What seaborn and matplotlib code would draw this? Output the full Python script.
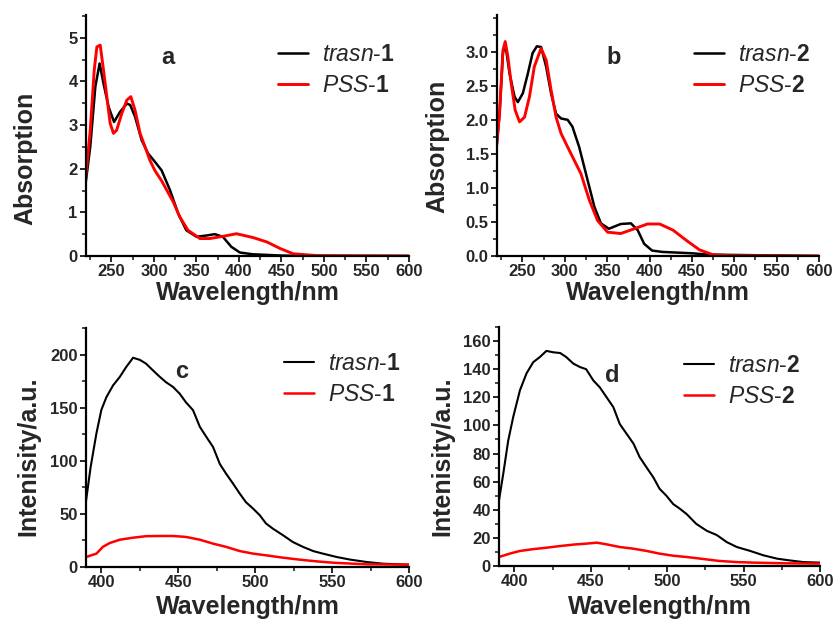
import numpy as np
import pandas as pd
import matplotlib
matplotlib.use("Agg")
import matplotlib.pyplot as plt
import seaborn as sns
from matplotlib.ticker import MultipleLocator, FixedLocator

# Absorption spectra, compound 1 (panel a)
wl_a_trans = [219, 225, 231, 236, 240.6, 246.5, 253, 260, 268, 272, 277.7, 285.5, 293, 301,
              309, 319, 328.5, 338, 350, 362, 371.5, 381, 391, 401, 416, 450, 480, 600]
abs_a_trans = [1.58, 2.5, 3.88, 4.41, 3.95, 3.42, 3.07, 3.30, 3.49, 3.46, 3.19, 2.65, 2.35, 2.16,
               1.96, 1.5, 0.97, 0.59, 0.44, 0.47, 0.50, 0.44, 0.21, 0.08, 0.04, 0.01, 0.0, 0.0]
wl_a_pss = [219, 225, 229.7, 232.8, 236.7, 240.6, 244.5, 248.4, 252.3, 256, 262, 268, 272.7,
            277.7, 283.6, 289.5, 295, 301, 309, 322.6, 330.5, 340, 354, 365.6, 381, 397,
            410.5, 417, 433, 448.5, 464, 491.5, 600]
abs_a_pss = [1.66, 2.88, 4.26, 4.79, 4.83, 4.26, 3.65, 3.04, 2.81, 2.88, 3.26, 3.57, 3.65,
             3.34, 2.81, 2.5, 2.2, 1.96, 1.72, 1.24, 0.89, 0.59, 0.40, 0.40, 0.45, 0.51,
             0.45, 0.42, 0.32, 0.17, 0.05, 0.01, 0.0]

# Absorption spectra, compound 2 (panel b)
wl_b_trans = [219, 223, 227, 229.7, 234.8, 240.7, 244.6, 250.5, 256.4, 262, 267, 272, 278,
              283.8, 289.7, 295.6, 303.4, 309, 317, 327, 335, 342.6, 352, 366, 378, 386,
              393.6, 403, 415, 450, 470, 600]
abs_b_trans = [1.53, 2.09, 2.98, 3.12, 2.68, 2.34, 2.26, 2.39, 2.68, 2.98, 3.08, 3.07, 2.78,
               2.39, 2.09, 2.02, 2.0, 1.90, 1.60, 1.11, 0.72, 0.48, 0.40, 0.47, 0.48, 0.38,
               0.18, 0.08, 0.06, 0.04, 0.02, 0.0]
wl_b_pss = [219, 223, 227, 229.7, 232.8, 236.8, 241.5, 246.6, 252.5, 258.3, 264, 272, 278,
            283.8, 289.7, 295.6, 303.4, 311, 319, 329, 338.7, 350.5, 366, 382, 397.5, 412,
            427.7, 443.4, 459, 474.6, 496, 600]
abs_b_pss = [1.55, 2.09, 3.02, 3.15, 2.93, 2.53, 2.14, 1.97, 2.04, 2.34, 2.78, 3.05, 2.88,
             2.44, 2.04, 1.80, 1.60, 1.41, 1.21, 0.82, 0.52, 0.35, 0.33, 0.40, 0.47, 0.47,
             0.38, 0.23, 0.09, 0.02, 0.005, 0.0]

# Emission spectra, compound 1 (panel c)
wl_c_trans = [390, 393, 396.8, 400, 403.3, 407.6, 412, 416, 420.6, 425, 429, 433.6, 438, 442,
              446.6, 451, 455, 459.6, 464, 468, 472.6, 477, 481, 485.6, 490, 494, 498.6, 503,
              507, 511.6, 518, 524.5, 531, 537.7, 544, 553, 561.6, 572.5, 583.3, 600]
int_c_trans = [62, 94, 126, 148, 160, 171, 179, 188, 197, 195, 191.5, 185, 179, 174,
               169.5, 163, 155, 147.6, 132, 123, 113, 97, 88, 78.5, 69, 61, 55, 48.7,
               41, 36, 30, 23.5, 19, 15, 12.6, 9.4, 7, 4.7, 3.1, 2.2]
wl_c_pss = [390, 396.8, 401, 405.5, 412, 420.6, 429, 438, 446.6, 455, 464, 472.6, 481, 490,
            498.6, 507, 518, 529, 540, 551, 572.5, 600]
int_c_pss = [9.4, 12.6, 19, 22.6, 25.7, 27.6, 29, 29.2, 29.2, 28.3, 25.7, 22, 19, 15,
             12.6, 11, 8.8, 6.9, 5.3, 4, 2.5, 2.2]

# Emission spectra, compound 2 (panel d)
wl_d_trans = [390, 392.8, 396, 399.3, 403.7, 408, 412.4, 416.7, 421, 425.5, 430, 434, 438.6,
              443, 447, 451.7, 456, 460.4, 464.8, 469, 473.5, 478, 482, 486.6, 491, 495, 499.5,
              504, 508, 512.7, 519, 526, 532.5, 539, 545.6, 554.4, 563, 572, 580, 589, 600]
int_d_trans = [46.7, 65.7, 89, 106, 125, 137, 145, 148.6, 153, 152, 151.5, 148.6, 144,
               141.5, 140, 132, 127, 120, 113, 101, 94, 87, 77.5, 70, 63, 55, 50,
               44, 41, 37, 30, 25, 22, 17, 13.5, 10.7, 7.6, 5.2, 4, 2.8, 2.4]
wl_d_pss = [390, 397, 403.7, 412.4, 421, 430, 438.6, 447, 454, 460.4, 469, 478, 486.6, 495,
            504, 512.7, 523.5, 534, 545.6, 556.5, 578, 600]
int_d_pss = [6.4, 8.8, 10.7, 12, 13, 14.2, 15.2, 15.9, 16.6, 15.4, 13.5, 12.3, 10.7, 8.8,
             7.3, 6.4, 5, 3.6, 2.8, 2.4, 1.9, 1.7]

sns.set_style("ticks")
plt.rcParams["font.family"] = ["Liberation Sans", "DejaVu Sans"]
plt.rcParams["mathtext.fontset"] = "custom"
plt.rcParams["mathtext.rm"] = "Liberation Sans"
plt.rcParams["mathtext.it"] = "Liberation Sans:italic:normal"
plt.rcParams["mathtext.bf"] = "Liberation Sans:bold"

W, H = 837, 619
fig = plt.figure(figsize=(W / 100, H / 100), dpi=100)


def px_axes(x0, x1, ytop, ybot):
    return fig.add_axes([x0 / W, 1 - ybot / H, (x1 - x0) / W, (ybot - ytop) / H])


def fig_xy(x, y):
    return x / W, 1 - y / H


panels = [
    dict(box=(86, 409, 15, 256), x1=wl_a_trans, y1=abs_a_trans, x2=wl_a_pss, y2=abs_a_pss,
         num="1", letter="a", letter_xy=(168, 58), leg_xy=(269, 34), xlim=(220, 600),
         ylim=(0, 5.52), ymaj=1, ymax_lab=5, ymin=0.5, ylabel="Absorption", lw=1.8,
         fmt="{:.0f}", ylab_xy=(37, 158), xlab_y=281),
    dict(box=(497, 819, 15, 256), x1=wl_b_trans, y1=abs_b_trans, x2=wl_b_pss, y2=abs_b_pss,
         num="2", letter="b", letter_xy=(614, 58), leg_xy=(685, 34), xlim=(220, 600),
         ylim=(0, 3.54), ymaj=0.5, ymax_lab=3.0, ymin=0.25, ylabel="Absorption", lw=1.8,
         fmt="{:.1f}", ylab_xy=(449, 146), xlab_y=281),
    dict(box=(86, 409, 328, 567), x1=wl_c_trans, y1=int_c_trans, x2=wl_c_pss, y2=int_c_pss,
         num="1", letter="c", letter_xy=(182, 372), leg_xy=(275, 343), xlim=(390, 600),
         ylim=(0, 225), ymaj=50, ymax_lab=200, ymin=25, ylabel="Intenisity/a.u.", lw=1.5,
         fmt="{:.0f}", ylab_xy=(40, 456), xlab_y=595),
    dict(box=(499, 820, 327, 566), x1=wl_d_trans, y1=int_d_trans, x2=wl_d_pss, y2=int_d_pss,
         num="2", letter="d", letter_xy=(612, 375), leg_xy=(675, 345), xlim=(390, 600),
         ylim=(0, 170), ymaj=20, ymax_lab=160, ymin=10, ylabel="Intenisity/a.u.", lw=1.5,
         fmt="{:.0f}", ylab_xy=(454, 456), xlab_y=595),
]

for p in panels:
    ax = px_axes(*p["box"])
    sns.lineplot(x=p["x1"], y=p["y1"], ax=ax, color="black", lw=p["lw"],
                 label=r"$\mathit{trasn}$-$\mathbf{" + p["num"] + "}$")
    sns.lineplot(x=p["x2"], y=p["y2"], ax=ax, color="#ff0000", lw=p["lw"] + 0.3,
                 label=r"$\mathit{PSS}$-$\mathbf{" + p["num"] + "}$")
    ax.xaxis.set_major_locator(MultipleLocator(50))
    ax.xaxis.set_minor_locator(MultipleLocator(25))
    majors = np.arange(0, p["ymax_lab"] + p["ymaj"] / 2, p["ymaj"])
    ax.yaxis.set_major_locator(FixedLocator(majors))
    ax.yaxis.set_minor_locator(MultipleLocator(p["ymin"]))
    ax.yaxis.set_major_formatter(plt.FuncFormatter(lambda v, pos, f=p["fmt"]: f.format(v)))
    ax.set_xlim(*p["xlim"])
    ax.set_ylim(*p["ylim"])
    ax.tick_params(which="major", direction="out", length=4, width=1.4, labelsize=12, pad=2)
    ax.tick_params(which="minor", direction="out", length=3, width=1.2)
    for lab in ax.get_xticklabels() + ax.get_yticklabels():
        lab.set_fontweight("bold")
    sns.despine(ax=ax)
    for s in ["left", "bottom"]:
        ax.spines[s].set_linewidth(1.6)
        ax.spines[s].set_color("black")
    ax.set_xlabel("Wavelength/nm", fontsize=18, fontweight="bold")
    ax.set_ylabel(p["ylabel"], fontsize=18, fontweight="bold")
    cx = (p["box"][0] + p["box"][1]) / 2
    ax.xaxis.set_label_coords(*fig_xy(cx, p["xlab_y"]), transform=fig.transFigure)
    ax.yaxis.set_label_coords(*fig_xy(*p["ylab_xy"]), transform=fig.transFigure)
    ax.legend(loc="upper left", bbox_to_anchor=fig_xy(*p["leg_xy"]),
              bbox_transform=fig.transFigure, frameon=False, fontsize=16.5,
              handlelength=1.3, handletextpad=0.6, labelspacing=0.35, borderaxespad=0)
    fig.text(*fig_xy(*p["letter_xy"]), p["letter"], fontsize=17, fontweight="bold",
             ha="center", va="center")

fig.savefig("out.png", dpi=100)
